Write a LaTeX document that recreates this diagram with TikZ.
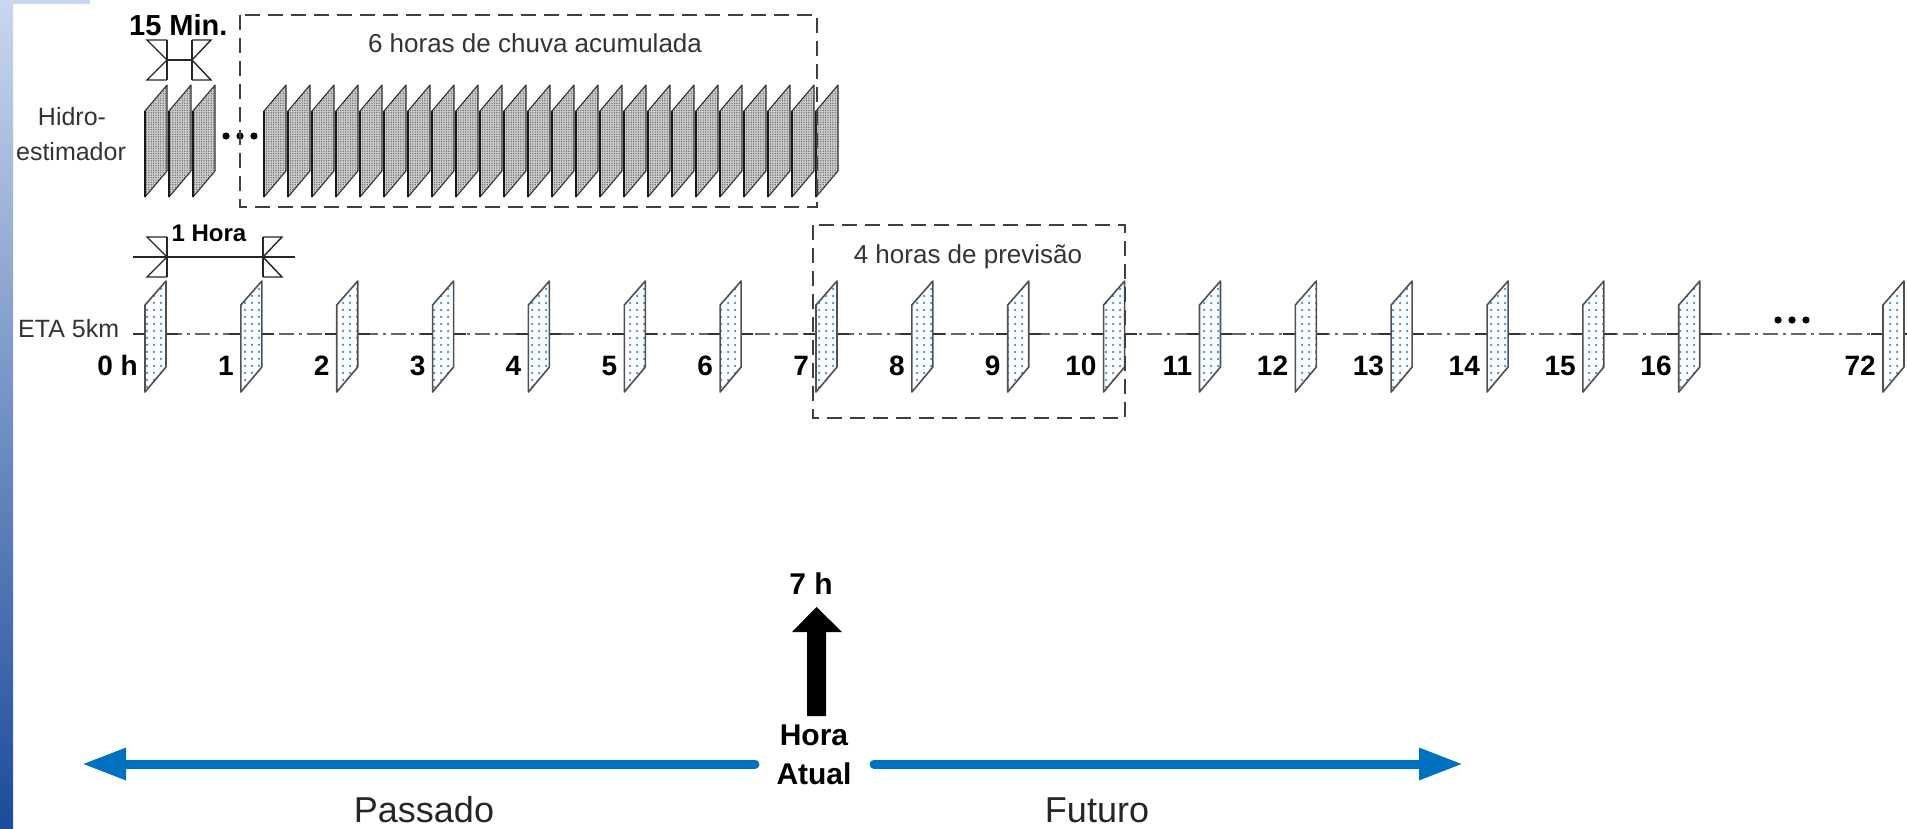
\documentclass[tikz,border=0pt]{standalone}
\usepackage{fontspec}
\setmainfont{Liberation Sans}
\usetikzlibrary{patterns.meta,arrows.meta}
\definecolor{barblue}{HTML}{0070C0}
\definecolor{edgegray}{HTML}{505050}
\definecolor{dotblue}{HTML}{2F8FD8}
\definecolor{txtgray}{HTML}{333333}
\definecolor{sidetop}{HTML}{C9D7EE}
\definecolor{sidebot}{HTML}{1C4B9B}
\tikzset{
  etafr/.style={draw=edgegray, line width=1.6pt, line join=round,
    preaction={fill=white},
    pattern={Dots[radius=1.25pt,distance=7pt]}, pattern color=dotblue},
  hidfr/.style={draw=black!80, line width=1.1pt, line join=round,
    preaction={fill=gray!40},
    pattern={Dots[radius=0.65pt,distance=2.4pt]}, pattern color=black!65},
  dimln/.style={draw=black!85, line width=1.4pt, line join=miter},
  boxdash/.style={draw=black!75, line width=2pt, dash pattern=on 15pt off 8pt},
  axisln/.style={draw=black!60, line width=2.4pt, dash pattern=on 15pt off 5pt on 3pt off 5pt},
  numlbl/.style={font=\fontsize{28}{32}\selectfont\bfseries, anchor=base east, inner sep=0pt},
  plain/.style={font=\fontsize{25}{30}\selectfont, inner sep=0pt, text=txtgray},
  bluearr/.style={draw=barblue, line width=9pt, line cap=round,
    -{Triangle[length=44pt,width=30pt]}},
}
\newcommand{\bowleft}[2]{%
  \draw[dimln] (#1,#2-20) -- (#1,#2+20);
  \draw[dimln] (#1,#2-20) -- (#1-20,#2-20) -- (#1,#2) -- (#1-20,#2+20) -- (#1,#2+20);}
\newcommand{\bowright}[2]{%
  \draw[dimln] (#1,#2-20) -- (#1,#2+20);
  \draw[dimln] (#1,#2-20) -- (#1+19,#2-20) -- (#1,#2) -- (#1+19,#2+20) -- (#1,#2+20);}
\newcommand{\hidroframe}[1]{%
  \draw[hidfr] (#1,111) -- (#1+22,85) -- (#1+22,171) -- (#1,197) -- cycle;
  \draw[line width=2.8pt, black!90] (#1,111) -- (#1,197);}
\newcommand{\etaframe}[1]{%
  \draw[draw=black!80, line width=1.8pt] (#1-12,334) -- (#1+33,334);
  \draw[etafr] (#1,305) -- (#1+21,281) -- (#1+21,367) -- (#1,392) -- cycle;}
\begin{document}
\begin{tikzpicture}[x=1pt,y=-1pt]
\useasboundingbox (0,0) rectangle (1907,828);
% side decoration
\shade[top color=sidetop, bottom color=sidebot] (0,0) rectangle (13,828);
\fill[sidetop] (0,0) rectangle (90,4);

% ---------- Hidro-estimador ----------
\node[plain, anchor=base] (hid1) at (72,125) {Hidro-};
\node[plain, anchor=base] (hid2) at (71,160) {estimador};
\foreach \L in {145,169,193} { \hidroframe{\L} }
\foreach \k in {0,...,23} {
  \pgfmathsetmacro\L{264+\k*24}
  \hidroframe{\L}
}
\foreach \xx in {226,240,254} { \fill (\xx,136) circle[radius=3.6pt]; }
\draw[boxdash] (240,15) rectangle (817,207);
\node[plain, anchor=base, font=\fontsize{26}{30}\selectfont] (chuva) at (535,52) {6 horas de chuva acumulada};

% 15 Min. dimension
\node[font=\fontsize{29}{32}\selectfont\bfseries, anchor=base west, inner sep=0pt] (min15) at (129,35) {15 Min.};
\bowleft{167}{60}
\bowright{192}{60}
\coordinate (m15a) at (167,60);
\coordinate (m15b) at (192,60);
\draw[dimln] (m15a) -- (m15b);

% ---------- ETA 5km ----------
\node[plain, anchor=base west, text=txtgray] (eta) at (18,337) {ETA 5km};
\draw[axisln] (167,334) -- (1883,334);
\foreach \i in {0,...,16} {
  \pgfmathsetmacro\L{145+\i*95.86}
  \etaframe{\L}
  \node[numlbl] (n\i) at (\L-7,375) {\ifnum\i=0 0 h\else\i\fi};
}
\etaframe{1883}
\node[numlbl] (n72) at (1876,375) {72};
\foreach \xx in {1778,1792,1806} { \fill (\xx,320) circle[radius=3.6pt]; }

% 1 Hora dimension
\coordinate (h1a) at (133,257);
\coordinate (h1b) at (295,257);
\draw[dimln] (h1a) -- (h1b);
\bowleft{167}{257}
\bowright{263}{257}
\node[font=\fontsize{24}{28}\selectfont\bfseries, anchor=base, inner sep=0pt] (hora1) at (209,241) {1 Hora};

% 4 horas box
\draw[boxdash] (813,225) rectangle (1125,418);
\node[plain, anchor=base, font=\fontsize{26}{30}\selectfont] (prev) at (968,263) {4 horas de previs\~ao};

% ---------- bottom ----------
\node[font=\fontsize{30}{34}\selectfont\bfseries, anchor=base, inner sep=0pt] (h7) at (811,594) {7 h};
\fill (807,716) -- (807,632) -- (792,632) -- (816.5,607) -- (842,632) -- (826,632) -- (826,716) -- cycle;
\node[font=\fontsize{30}{34}\selectfont\bfseries, anchor=base, inner sep=0pt] (hora) at (814,745) {Hora};
\node[font=\fontsize{30}{34}\selectfont\bfseries, anchor=base, inner sep=0pt] (atual) at (814,784) {Atual};
\coordinate (pl0) at (755,764);
\coordinate (pl1) at (82,764);
\coordinate (pr0) at (874,764);
\coordinate (pr1) at (1463,764);
\draw[bluearr] (pl0) -- (pl1);
\draw[bluearr] (pr0) -- (pr1);
\node[font=\fontsize{36}{40}\selectfont, anchor=base, inner sep=0pt, text=black!85] (pass) at (424,822) {Passado};
\node[font=\fontsize{36}{40}\selectfont, anchor=base, inner sep=0pt, text=black!85] (fut) at (1097,822) {Futuro};
\end{tikzpicture}
\end{document}
